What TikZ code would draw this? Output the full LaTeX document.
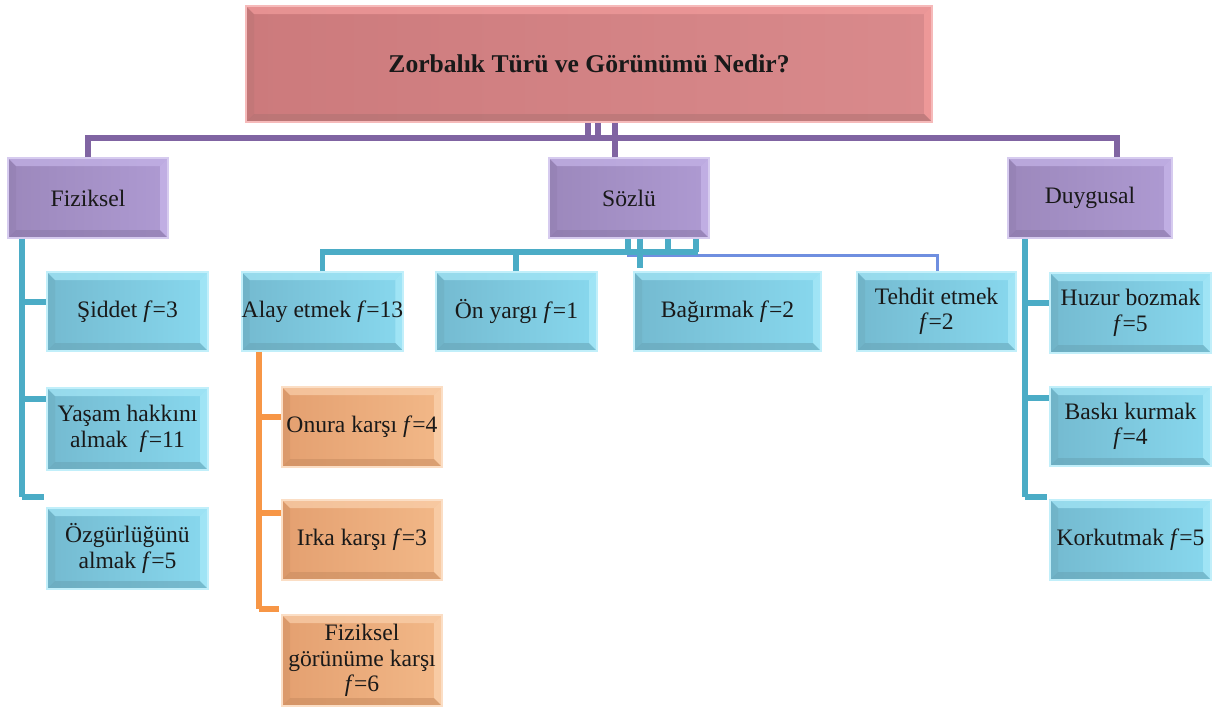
\documentclass[tikz,border=0pt]{standalone}
\usepackage{fontspec}
\setmainfont{Liberation Serif}
\definecolor{redA}{HTML}{CC7A7C}
\definecolor{redB}{HTML}{D98A8C}
\definecolor{redL}{HTML}{F29C9C}
\definecolor{redD}{HTML}{AF7272}
\definecolor{purA}{HTML}{9C88BC}
\definecolor{purB}{HTML}{AE9AD2}
\definecolor{purL}{HTML}{C5B4E8}
\definecolor{purD}{HTML}{8A78A8}
\definecolor{bluA}{HTML}{74BAD0}
\definecolor{bluB}{HTML}{88D8EE}
\definecolor{bluL}{HTML}{A6E8F8}
\definecolor{bluD}{HTML}{68A4B6}
\definecolor{oraA}{HTML}{E4A070}
\definecolor{oraB}{HTML}{F2B888}
\definecolor{oraL}{HTML}{FAD0AC}
\definecolor{oraD}{HTML}{C88C60}
\definecolor{pcon}{HTML}{8064A2}
\definecolor{bcon}{HTML}{4BACC6}
\definecolor{ocon}{HTML}{F79646}
\definecolor{tcon}{HTML}{6F8FE0}
\tikzset{
  boxbase/.style={rectangle, inner sep=0pt, align=center, text=black!90,
    font=\fontsize{11.8}{12.8}\selectfont},
  bev/.style n args={4}{boxbase, left color=#1, right color=#2, draw=#3!70, line width=0.8pt,
    path picture={
      \fill[#3, opacity=0.7] (path picture bounding box.north west) -- (path picture bounding box.north east) -- ([shift={(-4pt,-4pt)}]path picture bounding box.north east) -- ([shift={(4pt,-4pt)}]path picture bounding box.north west) -- cycle;
      \fill[#3, opacity=0.8] (path picture bounding box.north east) -- (path picture bounding box.south east) -- ([shift={(-4pt,4pt)}]path picture bounding box.south east) -- ([shift={(-4pt,-4pt)}]path picture bounding box.north east) -- cycle;
      \fill[#4, opacity=0.55] (path picture bounding box.south west) -- (path picture bounding box.south east) -- ([shift={(-4pt,4pt)}]path picture bounding box.south east) -- ([shift={(4pt,4pt)}]path picture bounding box.south west) -- cycle;
      \fill[#4, opacity=0.3] (path picture bounding box.north west) -- (path picture bounding box.south west) -- ([shift={(4pt,4pt)}]path picture bounding box.south west) -- ([shift={(4pt,-4pt)}]path picture bounding box.north west) -- cycle;
    }},
  redbox/.style={bev={redA}{redB}{redL}{redD}},
  purbox/.style={bev={purA}{purB}{purL}{purD}},
  blubox/.style={bev={bluA}{bluB}{bluL}{bluD}},
  orabox/.style={bev={oraA}{oraB}{oraL}{oraD}},
  pline/.style={draw=pcon, line width=2.6pt},
  bline/.style={draw=bcon, line width=2.6pt},
  oline/.style={draw=ocon, line width=2.6pt},
  tline/.style={draw=tcon, line width=1.5pt},
}
\newcommand{\bx}[7]{\node[#6, minimum width={(#4-#2)*0.5pt}, minimum height={(#5-#3)*0.5pt}] (#1) at ({(#2+#4)/2},{(#3+#5)/2}) {#7};}
\begin{document}
\begin{tikzpicture}[x=0.5pt, y=-0.5pt]
\useasboundingbox (0,0) rectangle (1221,708);
% boxes
\bx{top}{246}{6}{932}{122}{redbox}{\fontsize{12.8}{14}\selectfont\bfseries Zorbalık Türü ve Görünümü Nedir?}
\bx{fiz}{8}{158}{168}{238}{purbox}{Fiziksel}
\bx{soz}{549}{158}{709}{238}{purbox}{Sözlü}
\bx{duy}{1008}{158}{1172}{238}{purbox}{Duygusal}
\bx{sid}{47}{272}{208}{351}{blubox}{Şiddet \textit{f}=3}
\bx{yas}{47}{388}{208}{470}{blubox}{Yaşam hakkını\\almak~~\textit{f}=11}
\bx{ozg}{47}{508}{208}{589}{blubox}{Özgürlüğünü\\almak \textit{f}=5}
\bx{ala}{242}{272}{403}{351}{blubox}{Alay etmek \textit{f}=13}
\bx{ony}{436}{272}{597}{351}{blubox}{Ön yargı \textit{f}=1}
\bx{bag}{634}{272}{821}{351}{blubox}{Bağırmak \textit{f}=2}
\bx{teh}{857}{272}{1016}{351}{blubox}{Tehdit etmek\\\textit{f}=2}
\bx{huz}{1050}{273}{1211}{353}{blubox}{Huzur bozmak\\\textit{f}=5}
\bx{bas}{1050}{387}{1211}{466}{blubox}{Baskı kurmak\\\textit{f}=4}
\bx{kor}{1050}{500}{1211}{580}{blubox}{Korkutmak \textit{f}=5}
\bx{onu}{282}{387}{442}{467}{orabox}{Onura karşı \textit{f}=4}
\bx{irk}{282}{500}{442}{580}{orabox}{Irka karşı \textit{f}=3}
\bx{gor}{282}{615}{442}{706}{orabox}{Fiziksel\\görünüme karşı\\\textit{f}=6}
% purple connectors
\coordinate (pbus) at (615,138);
\draw[pline] (top.south -| 588,0) -- (588,138);
\draw[pline] (top.south -| 598,0) -- (598,138);
\draw[pline] (top.south -| 615,0) -- (pbus) -- (soz.north -| 615,0);
\draw[pline] (fiz.north) -- (88,138) -- (1117,138) -- (duy.north -| 1117,0);
% Fiziksel children
\draw[bline] (fiz.south -| 22,0) -- (22,497);
\draw[bline] (22,302) -- (sid.west |- 0,302);
\draw[bline] (22,399) -- (yas.west |- 0,399);
\draw[bline] (22,497) -- (44,497);
% Sozlu children
\draw[tline] (627,255) -- (937,255) -- (teh.north -| 937,0);
\draw[bline] (ala.north) -- (ala.north |- 0,252) -- (698,252);
\draw[bline] (ony.north -| 516,0) -- (516,252);
\draw[bline] (soz.south -| 628,0) -- (628,252);
\draw[bline] (soz.south -| 640,0) -- (640,268);
\draw[bline] (soz.south -| 668,0) -- (668,252);
\draw[bline] (soz.south -| 696,0) -- (696,252);
% Duygusal children
\draw[bline] (duy.south -| 1025,0) -- (1025,497);
\draw[bline] (1025,303) -- (huz.west |- 0,303);
\draw[bline] (1025,398) -- (bas.west |- 0,398);
\draw[bline] (1025,497) -- (1047,497);
% Alay etmek children
\draw[oline] (ala.south -| 259,0) -- (259,609);
\draw[oline] (259,417) -- (onu.west |- 0,417);
\draw[oline] (259,513) -- (irk.west |- 0,513);
\draw[oline] (259,609) -- (279,609);
\end{tikzpicture}
\end{document}
